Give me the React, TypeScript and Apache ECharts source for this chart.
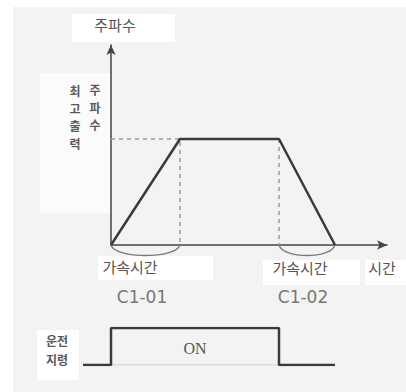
import React, { useEffect, useRef } from "react";
import * as echarts from "echarts";

// time values (arbitrary units) of the profile corners
const profileTime = [0, 6.9, 16.8, 22.4];
// frequency values at those corners
const profileFreq = [0, 53, 53, 0];
const maxFreq = 53;
const timeMax = 27.6;
const freqMax = 100;
// accel / decel spans marked by the arcs
const spans = [
  [0, 6.9],
  [16.8, 22.4],
];
// run command signal
const signalTime = [-2.8, 0, 0, 16.8, 16.8, 22.4];
const signalLevel = [0, 0, 1, 1, 0, 0];
// labels
const yName = "주파수";
const xName = "시간";
const spanLabels = ["가속시간", "가속시간"];
const spanCodes = ["C1-01", "C1-02"];
const maxLabelA = ["주", "파", "수"];
const maxLabelB = ["최", "고", "출", "력"];
const signalLabel = ["운전", "지령"];
const onLabel = "ON";

const KR = '"Noto Sans CJK KR", "Noto Sans", sans-serif';
const LINE = "#3a3a3a";

export default function App() {
  const ref = useRef<HTMLDivElement>(null);
  useEffect(() => {
    if (!ref.current) return;
    const chart = echarts.init(ref.current, null, { renderer: "svg" });
    const profile = profileTime.map((t, i) => [t, profileFreq[i]]);
    const signal = signalTime.map((t, i) => [t, signalLevel[i]]);
    chart.setOption({
      animation: false,
      backgroundColor: "#ffffff",
      grid: [
        { left: 111, right: 19, top: 45, bottom: 147 },
        { left: 83, right: 19, top: 328, bottom: 27 },
      ],
      xAxis: [
        {
          type: "value",
          gridIndex: 0,
          min: 0,
          max: timeMax,
          axisLine: {
            show: true,
            symbol: ["none", "arrow"],
            symbolSize: [7, 10],
            lineStyle: { color: "#444", width: 1.5 },
          },
          axisTick: { show: false },
          axisLabel: { show: false },
          splitLine: { show: false },
        },
        {
          type: "value",
          gridIndex: 1,
          min: -2.8,
          max: timeMax,
          show: false,
        },
      ],
      yAxis: [
        {
          type: "value",
          gridIndex: 0,
          min: 0,
          max: freqMax,
          axisLine: {
            show: true,
            symbol: ["none", "arrow"],
            symbolSize: [7, 10],
            lineStyle: { color: "#444", width: 1.5 },
          },
          axisTick: { show: false },
          axisLabel: { show: false },
          splitLine: { show: false },
        },
        { type: "value", gridIndex: 1, min: 0, max: 1, show: false },
      ],
      graphic: [
        { type: "rect", z: -10, shape: { x: 13, y: 7, width: 393, height: 385 }, style: { fill: "#f3f3f3" } },
        { type: "rect", z: -9, shape: { x: 72, y: 14, width: 103, height: 28 }, style: { fill: "#ffffff" } },
        { type: "rect", z: -9, shape: { x: 40, y: 73, width: 70, height: 140 }, style: { fill: "#fbfbfb" } },
        { type: "rect", z: -9, shape: { x: 98, y: 256, width: 115, height: 24 }, style: { fill: "#ffffff" } },
        { type: "rect", z: -9, shape: { x: 263, y: 260, width: 97, height: 25 }, style: { fill: "#ffffff" } },
        { type: "rect", z: -9, shape: { x: 365, y: 260, width: 41, height: 25 }, style: { fill: "#ffffff" } },
        { type: "rect", z: -9, shape: { x: 37, y: 330, width: 42, height: 50 }, style: { fill: "#ffffff" } },
        {
          type: "text", x: 115, y: 24,
          style: { text: yName, font: `15px ${KR}`, fill: "#555", align: "center", verticalAlign: "middle" },
        },
        {
          type: "text", x: 382, y: 267,
          style: { text: xName, font: `15px ${KR}`, fill: "#555", align: "center", verticalAlign: "middle" },
        },
        {
          type: "text", x: 130, y: 266,
          style: { text: spanLabels[0], font: `15px ${KR}`, fill: "#555", align: "center", verticalAlign: "middle" },
        },
        {
          type: "text", x: 300, y: 267,
          style: { text: spanLabels[1], font: `15px ${KR}`, fill: "#555", align: "center", verticalAlign: "middle" },
        },
        {
          type: "text", x: 142, y: 297,
          style: { text: spanCodes[0], font: '17px "DejaVu Sans", sans-serif', fill: "#777", align: "center", verticalAlign: "middle" },
        },
        {
          type: "text", x: 303, y: 297,
          style: { text: spanCodes[1], font: '17px "DejaVu Sans", sans-serif', fill: "#777", align: "center", verticalAlign: "middle" },
        },
        {
          type: "text", x: 95, y: 81,
          style: { text: maxLabelA.join("\n"), font: `bold 12px ${KR}`, lineHeight: 17.5, fill: "#5a5a5a", align: "center", verticalAlign: "top" },
        },
        {
          type: "text", x: 75, y: 82,
          style: { text: maxLabelB.join("\n"), font: `bold 12px ${KR}`, lineHeight: 17.5, fill: "#5a5a5a", align: "center", verticalAlign: "top" },
        },
        {
          type: "text", x: 57, y: 331,
          style: { text: signalLabel.join("\n"), font: `bold 12px ${KR}`, lineHeight: 19, fill: "#5a5a5a", align: "center", verticalAlign: "top" },
        },
        {
          type: "text", x: 195, y: 348,
          style: { text: onLabel, font: '16px "Liberation Serif", "DejaVu Serif", serif', fill: "#555", align: "center", verticalAlign: "middle" },
        },
      ],
      series: [
        {
          type: "line",
          xAxisIndex: 0,
          yAxisIndex: 0,
          data: [[0, maxFreq], [profileTime[1], maxFreq], [profileTime[1], 0]],
          symbol: "none",
          lineStyle: { color: "#9a9a9a", width: 1.5, type: [4, 4] },
          z: 1,
        },
        {
          type: "line",
          xAxisIndex: 0,
          yAxisIndex: 0,
          data: [[profileTime[2], maxFreq], [profileTime[2], 0]],
          symbol: "none",
          lineStyle: { color: "#9a9a9a", width: 1.5, type: [4, 4] },
          z: 1,
        },
        {
          type: "custom",
          xAxisIndex: 0,
          yAxisIndex: 0,
          data: spans,
          z: 2,
          renderItem: (_params: any, api: any) => {
            const p0 = api.coord([api.value(0), 0]);
            const p1 = api.coord([api.value(1), 0]);
            const d = 14;
            return {
              type: "bezierCurve",
              shape: {
                x1: p0[0], y1: p0[1],
                cpx1: p0[0] + 4, cpy1: p0[1] + d,
                cpx2: p1[0] - 4, cpy2: p1[1] + d,
                x2: p1[0], y2: p1[1],
              },
              style: { fill: "none", stroke: "#7a7a7a", lineWidth: 1.3 },
            };
          },
        },
        {
          type: "line",
          xAxisIndex: 0,
          yAxisIndex: 0,
          data: profile,
          symbol: "none",
          lineStyle: { color: LINE, width: 2.5 },
          z: 3,
        },
        {
          type: "line",
          xAxisIndex: 1,
          yAxisIndex: 1,
          data: [[signalTime[1], 0], [signalTime[3], 0]],
          symbol: "none",
          lineStyle: { color: "#c4c4c4", width: 1.2 },
          z: 1,
        },
        {
          type: "line",
          xAxisIndex: 1,
          yAxisIndex: 1,
          data: signal,
          symbol: "none",
          lineStyle: { color: LINE, width: 2.5 },
          z: 3,
        },
      ],
    });
    return () => chart.dispose();
  }, []);
  return (
    <div
      ref={ref}
      style={{ position: "absolute", left: 0, top: 0, width: 406, height: 392 }}
    />
  );
}
